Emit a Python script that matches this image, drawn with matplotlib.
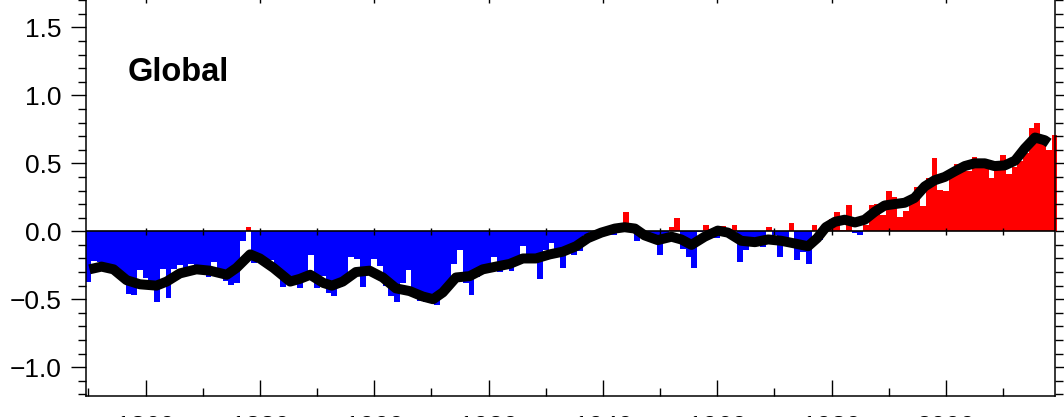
import numpy as np
import matplotlib
matplotlib.use("Agg")
import matplotlib.pyplot as plt
from matplotlib.ticker import MultipleLocator, FuncFormatter

plt.rcParams['font.family'] = ['Liberation Sans', 'DejaVu Sans']

# annual global temperature anomalies (degC)
years = list(range(1850, 2020))
anomaly = [
    -0.373, -0.218, -0.228, -0.269, -0.248, -0.272, -0.358, -0.461, -0.467, -0.284,  # 1850s
    -0.343, -0.407, -0.524, -0.278, -0.494, -0.279, -0.251, -0.321, -0.238, -0.262,  # 1860s
    -0.276, -0.335, -0.227, -0.304, -0.368, -0.395, -0.384, -0.075, 0.035, -0.230,   # 1870s
    -0.227, -0.200, -0.213, -0.296, -0.409, -0.389, -0.367, -0.418, -0.307, -0.171,  # 1880s
    -0.416, -0.330, -0.455, -0.473, -0.410, -0.390, -0.186, -0.206, -0.412, -0.289,  # 1890s
    -0.203, -0.259, -0.402, -0.479, -0.520, -0.377, -0.283, -0.465, -0.511, -0.522,  # 1900s
    -0.490, -0.544, -0.437, -0.424, -0.244, -0.141, -0.383, -0.468, -0.333, -0.275,  # 1910s
    -0.247, -0.187, -0.302, -0.276, -0.294, -0.215, -0.108, -0.210, -0.206, -0.350,  # 1920s
    -0.137, -0.087, -0.137, -0.273, -0.131, -0.178, -0.147, -0.026, -0.006, -0.052,  # 1930s
    0.014, 0.020, -0.027, -0.004, 0.144, 0.025, -0.071, -0.038, -0.039, -0.074,      # 1940s
    -0.173, -0.052, 0.028, 0.097, -0.129, -0.190, -0.267, -0.007, 0.046, 0.017,      # 1950s
    -0.049, 0.038, 0.014, 0.048, -0.223, -0.140, -0.068, -0.074, -0.113, 0.032,      # 1960s
    -0.027, -0.186, -0.065, 0.062, -0.214, -0.149, -0.241, 0.047, -0.062, 0.057,     # 1970s
    0.092, 0.140, 0.011, 0.194, -0.014, -0.030, 0.045, 0.192, 0.198, 0.118,          # 1980s
    0.296, 0.254, 0.105, 0.148, 0.208, 0.325, 0.183, 0.390, 0.539, 0.306,            # 1990s
    0.294, 0.441, 0.496, 0.505, 0.447, 0.545, 0.506, 0.491, 0.395, 0.506,            # 2000s
    0.560, 0.425, 0.470, 0.514, 0.579, 0.763, 0.797, 0.677, 0.595, 0.710,            # 2010s
]

# smoothed curve
smooth_years = [
    1850.2, 1852.3, 1854.4, 1856.7, 1859.0, 1861.9, 1863.7, 1866.0, 1868.9, 1871.3,
    1874.2, 1875.9, 1878.3, 1880.0, 1882.4, 1885.3, 1887.0, 1888.8, 1891.1, 1892.6,
    1894.5, 1896.8, 1899.2, 1901.5, 1903.8, 1906.2, 1908.5, 1910.3, 1912.0, 1914.3,
    1916.7, 1919.0, 1921.3, 1923.7, 1926.0, 1928.3, 1930.7, 1933.0, 1935.3, 1937.4,
    1939.7, 1942.1, 1943.8, 1945.6, 1947.3, 1949.6, 1952.0, 1953.7, 1955.5, 1957.8,
    1960.1, 1961.9, 1964.2, 1966.6, 1968.9, 1971.2, 1973.6, 1975.9, 1977.5, 1979.0,
    1980.6, 1982.3, 1984.1, 1985.8, 1987.6, 1989.3, 1991.0, 1992.8, 1994.5, 1996.3,
    1998.0, 1999.8, 2001.5, 2003.3, 2005.0, 2006.8, 2008.5, 2010.3, 2012.1, 2013.8,
    2015.6, 2017.3, 2018.0,
]
smooth_vals = [
    -0.28, -0.26, -0.28, -0.36, -0.39, -0.40, -0.37, -0.31, -0.28, -0.29,
    -0.32, -0.27, -0.17, -0.20, -0.27, -0.37, -0.35, -0.32, -0.38, -0.40,
    -0.37, -0.30, -0.29, -0.34, -0.42, -0.44, -0.48, -0.50, -0.45, -0.34,
    -0.33, -0.28, -0.26, -0.24, -0.20, -0.20, -0.17, -0.15, -0.11, -0.05,
    -0.01, 0.02, 0.03, 0.02, -0.03, -0.065, -0.04, -0.06, -0.10, -0.04,
    0.005, -0.01, -0.07, -0.08, -0.06, -0.07, -0.09, -0.11, -0.05, 0.03,
    0.07, 0.085, 0.065, 0.085, 0.145, 0.19, 0.20, 0.21, 0.245, 0.33,
    0.375, 0.40, 0.44, 0.48, 0.50, 0.50, 0.48, 0.485, 0.52, 0.61,
    0.69, 0.67, 0.65,
]

colors = ['#ff0000' if v >= 0 else '#0000ff' for v in anomaly]

fig = plt.figure(figsize=(10.64, 4.17), dpi=100)
ax = fig.add_axes([85.5 / 1064, 21.3 / 417, 969.0 / 1064, 409.0 / 417])

bars = ax.bar(years, anomaly, width=1.0, color=colors, linewidth=0,
              antialiased=False, zorder=1)
for b in bars:
    b.set_clip_on(False)

# zero line with decade marks
ax.axhline(0, color='black', lw=1.2, zorder=2)
ax.vlines(np.arange(1860, 2020, 10), -0.025, 0.025, color='black', lw=1.0, zorder=2)

ax.plot(smooth_years, smooth_vals, color='black', lw=7.2,
        solid_joinstyle='round', solid_capstyle='butt', zorder=3)

ax.text(1856.8, 1.105, 'Global', fontsize=23.5, fontweight='bold',
        ha='left', va='baseline')

ax.set_xlim(1849.5, 2019.0)
ax.set_ylim(-1.21, 1.80)

ax.xaxis.set_major_locator(MultipleLocator(20))
ax.xaxis.set_minor_locator(MultipleLocator(10))
ax.yaxis.set_major_locator(MultipleLocator(0.5))
ax.yaxis.set_minor_locator(MultipleLocator(0.1))
ax.yaxis.set_major_formatter(FuncFormatter(lambda v, p: f'{v:.1f}'.replace('-', '\u2212')))

ax.tick_params(axis='x', which='both', direction='in', top=True, bottom=True,
               labelsize=19, pad=14, width=1.0)
ax.tick_params(axis='x', which='major', length=11.5)
ax.tick_params(axis='x', which='minor', length=5.8)
ax.tick_params(axis='y', which='both', direction='out', left=True, right=True,
               labelsize=19, pad=6.5, width=1.0)
ax.tick_params(axis='y', which='major', length=11)
ax.tick_params(axis='y', which='minor', length=5.8)

for s in ax.spines.values():
    s.set_linewidth(1.1)

fig.savefig('out.png', dpi=100)
